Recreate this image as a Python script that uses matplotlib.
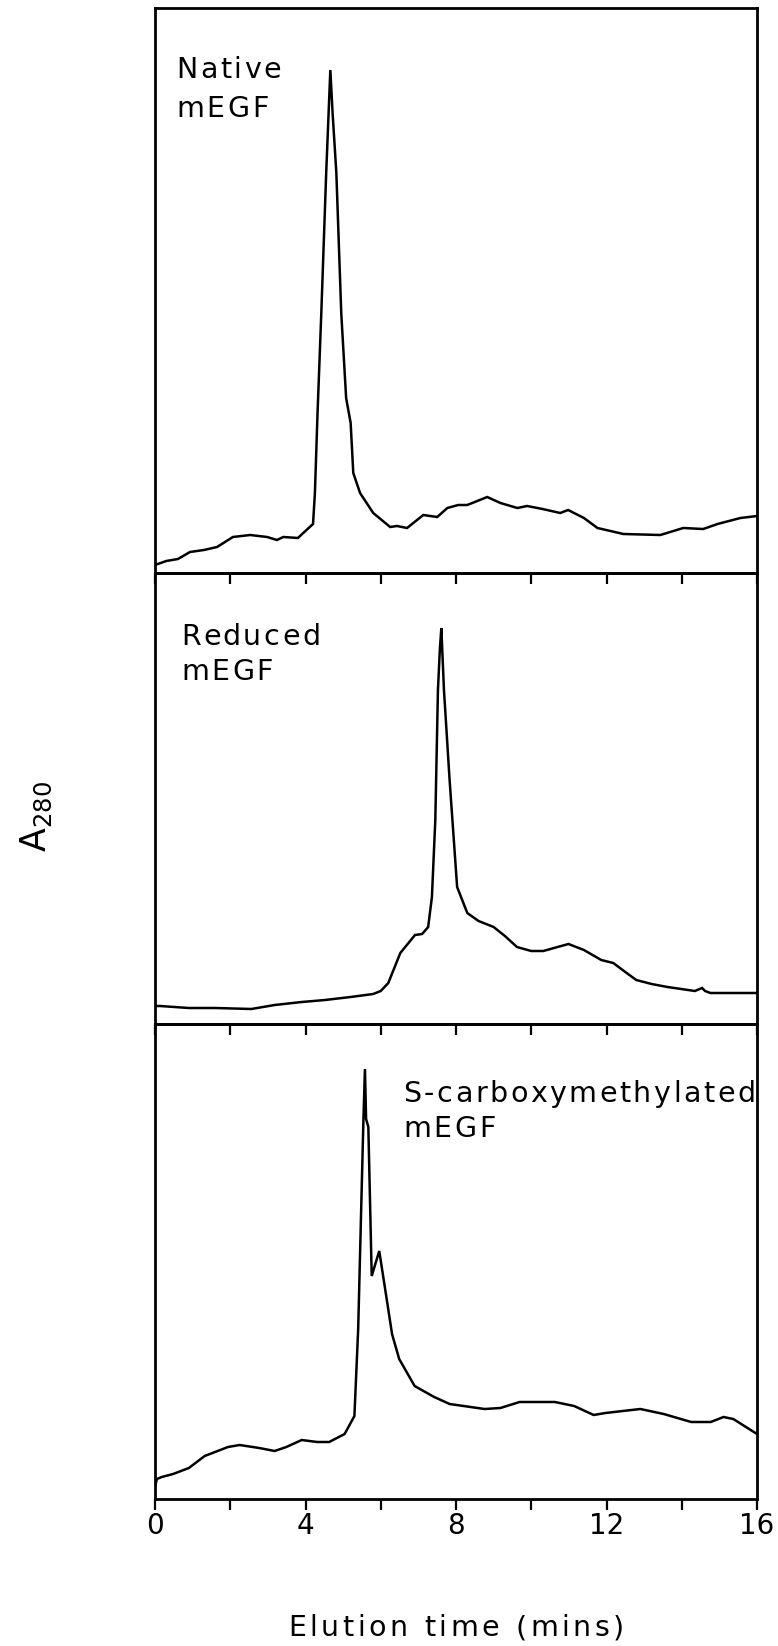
import numpy as np
import matplotlib
matplotlib.use("Agg")
import matplotlib.pyplot as plt
from matplotlib.font_manager import FontProperties

# HPLC traces of mEGF, A280 in relative units, time in minutes
native_t = [0.0, 0.3, 0.61, 0.93, 1.3, 1.65, 2.07, 2.53, 2.98, 3.24, 3.41, 3.8, 3.94, 4.2,
            4.25, 4.32, 4.42, 4.55, 4.66, 4.72, 4.82, 4.95, 5.08, 5.2, 5.27, 5.45, 5.8,
            6.25, 6.43, 6.7, 7.13, 7.5, 7.77, 8.06, 8.3, 8.83, 9.18, 9.63, 9.89, 10.3,
            10.77, 10.98, 11.4, 11.76, 12.45, 13.43, 14.04, 14.57, 14.95, 15.56, 16.0]
native_a = [0.08, 0.12, 0.14, 0.21, 0.23, 0.26, 0.36, 0.38, 0.36, 0.33, 0.36, 0.35, 0.40, 0.49,
            0.80, 1.60, 2.60, 4.00, 5.03, 4.60, 4.00, 2.60, 1.75, 1.50, 1.00, 0.80, 0.60,
            0.46, 0.47, 0.45, 0.58, 0.56, 0.65, 0.68, 0.68, 0.76, 0.70, 0.65, 0.67, 0.64,
            0.60, 0.63, 0.55, 0.45, 0.39, 0.38, 0.45, 0.44, 0.49, 0.55, 0.57]

reduced_t = [0.0, 0.13, 0.9, 1.6, 2.56, 3.18, 3.9, 4.52, 5.2, 5.8, 6.0, 6.2, 6.52, 6.91,
             7.1, 7.26, 7.36, 7.45, 7.52, 7.57, 7.61, 7.68, 7.83, 8.03, 8.3, 8.6, 9.0,
             9.3, 9.62, 10.0, 10.32, 10.7, 10.99, 11.4, 11.86, 12.18, 12.5, 12.79, 13.2,
             13.62, 14.35, 14.54, 14.62, 14.76, 16.0]
reduced_a = [0.18, 0.18, 0.16, 0.16, 0.15, 0.19, 0.22, 0.24, 0.27, 0.30, 0.33, 0.41, 0.71, 0.89,
             0.90, 0.97, 1.27, 2.04, 3.34, 3.74, 3.96, 3.34, 2.44, 1.37, 1.11, 1.03, 0.97,
             0.88, 0.77, 0.73, 0.73, 0.77, 0.80, 0.74, 0.64, 0.61, 0.52, 0.44, 0.40,
             0.37, 0.33, 0.36, 0.33, 0.31, 0.31]

scm_t = [0.0, 0.05, 0.18, 0.48, 0.9, 1.32, 1.94, 2.25, 2.77, 3.18, 3.49, 3.9, 4.31, 4.63,
         5.04, 5.3, 5.4, 5.54, 5.58, 5.61, 5.67, 5.76, 5.96, 6.17, 6.3, 6.49, 6.9, 7.42,
         7.83, 8.76, 9.18, 9.69, 10.63, 11.14, 11.66, 11.97, 12.9, 13.52, 14.25, 14.77,
         15.11, 15.37, 16.0]
scm_a = [0.12, 0.20, 0.22, 0.25, 0.31, 0.43, 0.52, 0.54, 0.51, 0.48, 0.52, 0.59, 0.57, 0.57,
         0.65, 0.83, 1.70, 3.80, 4.30, 3.80, 3.72, 2.23, 2.48, 1.97, 1.65, 1.40, 1.13, 1.02,
         0.95, 0.90, 0.91, 0.97, 0.97, 0.93, 0.84, 0.86, 0.90, 0.85, 0.77, 0.77,
         0.82, 0.80, 0.65]

labels = ["Native\nmEGF", "Reduced\nmEGF", "S-carboxymethylated\nmEGF"]
label_pos = [(0.035, 0.876), (0.043, 0.840), (0.412, 0.836)]
label_gap = [39, 35, 35]
y_tops = [5.65, 4.51, 4.75]
tick_vals = [0, 2, 4, 6, 8, 10, 12, 14, 16]
tick_text = ["0", "", "4", "", "8", "", "12", "", "16"]

traces = [(native_t, native_a), (reduced_t, reduced_a), (scm_t, scm_a)]

fig = plt.figure(figsize=(7.78, 16.46), dpi=100)
renderer = fig.canvas.get_renderer()
font = FontProperties(family="DejaVu Sans", size=20.5)


def width_px(s, prop):
    if not s:
        return 0.0
    return renderer.get_text_width_height_descent(s, prop, ismath=False)[0]


# the typeset labels are letter-spaced, so place them one character at a time
def spaced_text(x, y, s, coords, prop, track=3.0, gap=36, center=False):
    k = 72 / fig.dpi
    for j, line in enumerate(s.split("\n")):
        shift = 0.0
        if center:
            shift = -(width_px(line, prop) + track * (len(line) - 1)) / 2
        for i, ch in enumerate(line):
            dx = shift + width_px(line[:i], prop) + i * track
            fig.axes[0].annotate(ch, xy=(x, y), xycoords=coords,
                                 xytext=(dx * k, -j * gap * k), textcoords="offset points",
                                 fontproperties=prop, ha="left", va="baseline",
                                 annotation_clip=False)


left, width = 155 / 778, 602 / 778
boxes = [(8, 573), (573, 1024), (1024, 1499)]

axes = []
for i, ((t, a), (top, bot)) in enumerate(zip(traces, boxes)):
    ax = fig.add_axes([left, 1 - bot / 1646, width, (bot - top) / 1646])
    ax.patch.set_visible(False)
    ax.plot(t, a, color="black", lw=1.8, solid_joinstyle="miter")
    ax.set_xlim(0, 16)
    ax.set_ylim(0, y_tops[i])
    ax.set_yticks([])
    ax.set_xticks(tick_vals)
    if i == 2:
        ax.set_xticklabels(tick_text, fontsize=20)
    else:
        ax.set_xticklabels([])
    ax.tick_params(axis="x", direction="out", length=8, width=1.6, pad=1)
    for s in ax.spines.values():
        s.set_linewidth(2.0)
    axes.append(ax)

for i, ax in enumerate(axes):
    spaced_text(label_pos[i][0], label_pos[i][1], labels[i], ax.transAxes, font,
                track=2.6, gap=label_gap[i])

spaced_text(0.5 * (155 + 757) / 778, 1 - 1636 / 1646, "Elution time (mins)",
            "figure fraction", font, track=3.6, center=True)

fig.text(0.047, 0.504, r"A$_{280}$", rotation=90, fontsize=25, ha="center", va="center")

fig.savefig("out.png", dpi=100)
